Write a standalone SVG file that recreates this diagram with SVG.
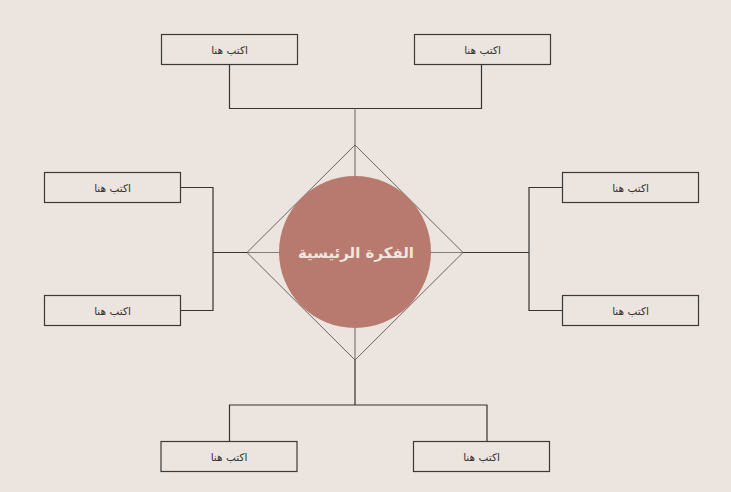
<svg xmlns="http://www.w3.org/2000/svg" width="731" height="492" viewBox="0 0 731 492">
<style>
.bg{fill:#ECE4DE}
.box{fill:#ECE4DE;stroke:#3a3a3a;stroke-width:1.2}
.conn{fill:none;stroke:#333;stroke-width:1.2}
.inner{fill:none;stroke:#7f7b78;stroke-width:1.2}
.dia{fill:none;stroke:#6a6664;stroke-width:1}
.lbl{font-family:"DejaVu Sans","Noto Sans",sans-serif;font-size:10.5px;fill:#333;text-anchor:middle;dominant-baseline:central}
.title{font-family:"DejaVu Sans","Noto Sans",sans-serif;font-size:15px;font-weight:bold;fill:#F1E6DF;text-anchor:middle;dominant-baseline:central}
</style>
<rect class="bg" x="0" y="0" width="731" height="492"/>
<g id="connectors">
<path class="conn" d="M229.5 64.5V108.5H481.5V64.5"/>
<path class="inner" d="M355 108.5V145"/>
<path class="conn" d="M180.5 187.5H213V310.5H180.5M213 252.5H247"/>
<path class="conn" d="M562.5 187.5H529V310.5H562.5M529 252.5H463"/>
<path class="conn" d="M355 360V405H229.5V441.5M355 405H487V441.5"/>
</g>
<g id="center">
<path class="inner" d="M355 145V360M247 252.5H463"/>
<path class="dia" d="M355 145L463 252.5L355 360L247 252.5Z"/>
<circle cx="355" cy="252" r="76" fill="#B87A6E"/>
<text class="title" x="356" y="253" direction="rtl">الفكرة الرئيسية</text>
</g>
<g id="n-top-left"><rect class="box" x="161.5" y="34.5" width="136" height="30"/><text class="lbl" x="229.5" y="49.5" direction="rtl">اكتب هنا</text></g>
<g id="n-top-right"><rect class="box" x="414.5" y="34.5" width="136" height="30"/><text class="lbl" x="482.5" y="49.5" direction="rtl">اكتب هنا</text></g>
<g id="n-left-top"><rect class="box" x="44.5" y="172.5" width="136" height="30"/><text class="lbl" x="112.5" y="187.5" direction="rtl">اكتب هنا</text></g>
<g id="n-left-bottom"><rect class="box" x="44.5" y="295.5" width="136" height="30"/><text class="lbl" x="112.5" y="310.5" direction="rtl">اكتب هنا</text></g>
<g id="n-right-top"><rect class="box" x="562.5" y="172.5" width="136" height="30"/><text class="lbl" x="630.5" y="187.5" direction="rtl">اكتب هنا</text></g>
<g id="n-right-bottom"><rect class="box" x="562.5" y="295.5" width="136" height="30"/><text class="lbl" x="630.5" y="310.5" direction="rtl">اكتب هنا</text></g>
<g id="n-bottom-left"><rect class="box" x="161" y="441.5" width="136" height="30"/><text class="lbl" x="229" y="456.5" direction="rtl">اكتب هنا</text></g>
<g id="n-bottom-right"><rect class="box" x="413.5" y="441.5" width="136" height="30"/><text class="lbl" x="481.5" y="456.5" direction="rtl">اكتب هنا</text></g>
</svg>
